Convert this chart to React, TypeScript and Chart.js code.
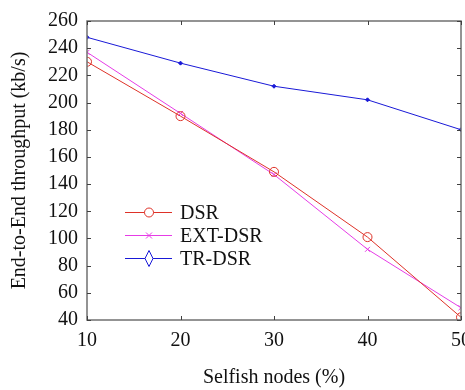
import React, { useEffect, useRef } from "react";
import { Chart, registerables } from "chart.js";

Chart.register(...registerables);

const categories = [10, 20, 30, 40, 50];
const dsr = [230, 190, 149, 101, 42];
const extDsr = [237, 192, 147, 92, 49];
const trDsr = [248, 229, 212, 202, 180];
const yTicks = [40, 60, 80, 100, 120, 140, 160, 180, 200, 220, 240, 260];
const seriesNames = ["DSR", "EXT-DSR", "TR-DSR"];

const RED = "rgb(222,50,40)";
const MAGENTA = "rgb(230,60,230)";
const BLUE = "rgb(25,25,215)";
const FONT = "'Liberation Serif', 'DejaVu Serif', serif";

const framePlugin = {
  id: "frame",
  afterDraw(chart: any) {
    const { ctx, chartArea } = chart;
    const { left, right, top, bottom } = chartArea;
    const xs = chart.scales.x;
    const ys = chart.scales.y;
    ctx.save();
    ctx.strokeStyle = "#707070";
    ctx.lineWidth = 1.5;
    ctx.strokeRect(left, top, right - left, bottom - top);
    ctx.lineWidth = 1;
    ctx.strokeStyle = "#404040";
    const tl = 4;
    categories.forEach((c) => {
      const px = Math.round(xs.getPixelForValue(c)) + 0.5;
      ctx.beginPath();
      ctx.moveTo(px, bottom);
      ctx.lineTo(px, bottom - tl);
      ctx.moveTo(px, top);
      ctx.lineTo(px, top + tl);
      ctx.stroke();
    });
    yTicks.forEach((v) => {
      const py = Math.round(ys.getPixelForValue(v)) + 0.5;
      ctx.beginPath();
      ctx.moveTo(left, py);
      ctx.lineTo(left + tl, py);
      ctx.moveTo(right, py);
      ctx.lineTo(right - tl, py);
      ctx.stroke();
    });

    // legend
    const lx0 = 125;
    const lx1 = 172;
    const mx = 149;
    const rowsY = [212, 235, 258];
    const colors = [RED, MAGENTA, BLUE];
    ctx.font = "20px " + FONT;
    ctx.textBaseline = "middle";
    ctx.textAlign = "left";
    seriesNames.forEach((name, i) => {
      const y = rowsY[i] + 0.5;
      ctx.strokeStyle = colors[i];
      ctx.lineWidth = 1;
      ctx.beginPath();
      ctx.moveTo(lx0, y);
      ctx.lineTo(lx1, y);
      ctx.stroke();
      ctx.beginPath();
      if (i === 0) {
        ctx.arc(mx, y, 4.5, 0, Math.PI * 2);
        ctx.fillStyle = "#fff";
        ctx.fill();
        ctx.stroke();
      } else if (i === 1) {
        ctx.moveTo(mx - 3, y - 3);
        ctx.lineTo(mx + 3, y + 3);
        ctx.moveTo(mx + 3, y - 3);
        ctx.lineTo(mx - 3, y + 3);
        ctx.stroke();
      } else {
        ctx.moveTo(mx, y - 8);
        ctx.lineTo(mx + 4, y);
        ctx.lineTo(mx, y + 8);
        ctx.lineTo(mx - 4, y);
        ctx.closePath();
        ctx.fillStyle = "#fff";
        ctx.fill();
        ctx.stroke();
      }
      ctx.fillStyle = "#111";
      ctx.fillText(name, 180, y + 1);
    });
    ctx.restore();
  },
};

export default function App() {
  const ref = useRef<HTMLCanvasElement | null>(null);
  useEffect(() => {
    if (!ref.current) return;
    const chart = new Chart(ref.current, {
      type: "line",
      data: {
        datasets: [
          {
            label: seriesNames[0],
            data: categories.map((c, i) => ({ x: c, y: dsr[i] })),
            borderColor: RED,
            backgroundColor: "rgba(0,0,0,0)",
            borderWidth: 1,
            pointStyle: "circle",
            pointRadius: 4.5,
            pointBorderColor: RED,
            pointBorderWidth: 1,
          },
          {
            label: seriesNames[1],
            data: categories.map((c, i) => ({ x: c, y: extDsr[i] })),
            borderColor: MAGENTA,
            backgroundColor: MAGENTA,
            borderWidth: 1,
            pointStyle: "crossRot",
            pointRadius: 3.5,
            pointBorderColor: MAGENTA,
            pointBorderWidth: 1,
          },
          {
            label: seriesNames[2],
            data: categories.map((c, i) => ({ x: c, y: trDsr[i] })),
            borderColor: BLUE,
            backgroundColor: BLUE,
            borderWidth: 1,
            pointStyle: "rectRot",
            pointRadius: 2,
            pointBorderColor: BLUE,
            pointBackgroundColor: BLUE,
            pointBorderWidth: 1,
          },
        ],
      },
      options: {
        animation: false,
        responsive: false,
        layout: { padding: { top: 16, right: 16, bottom: 0, left: 0 } },
        plugins: { legend: { display: false }, tooltip: { enabled: false } },
        scales: {
          x: {
            type: "linear",
            min: 10,
            max: 50,
            border: { display: false },
            grid: { display: false, drawTicks: false },
            afterFit: (s: any) => {
              s.height = 70;
            },
            afterBuildTicks: (s: any) => {
              s.ticks = categories.map((v) => ({ value: v }));
            },
            ticks: {
              color: "#111",
              font: { family: FONT, size: 20 },
              padding: 9,
              maxRotation: 0,
            },
            title: {
              display: true,
              text: "Selfish nodes (%)",
              color: "#111",
              font: { family: FONT, size: 20 },
              padding: { top: 0, bottom: 0 },
            },
          },
          y: {
            type: "linear",
            min: 40,
            max: 260,
            border: { display: false },
            grid: { display: false, drawTicks: false },
            afterFit: (s: any) => {
              s.width = 87;
            },
            afterBuildTicks: (s: any) => {
              s.ticks = yTicks.map((v) => ({ value: v }));
            },
            ticks: {
              color: "#111",
              font: { family: FONT, size: 20 },
              padding: 9,
            },
            title: {
              display: true,
              text: "End-to-End throughput (kb/s)",
              color: "#111",
              font: { family: FONT, size: 20 },
              padding: { top: 8, bottom: 0 },
            },
          },
        },
      },
      plugins: [framePlugin],
    } as any);
    return () => chart.destroy();
  }, []);
  return (
    <div
      style={{
        position: "fixed",
        left: 0,
        top: 0,
        width: 465,
        height: 390,
        overflow: "hidden",
        background: "#fff",
      }}
    >
      <canvas ref={ref} width={480} height={390} style={{ display: "block" }} />
    </div>
  );
}
